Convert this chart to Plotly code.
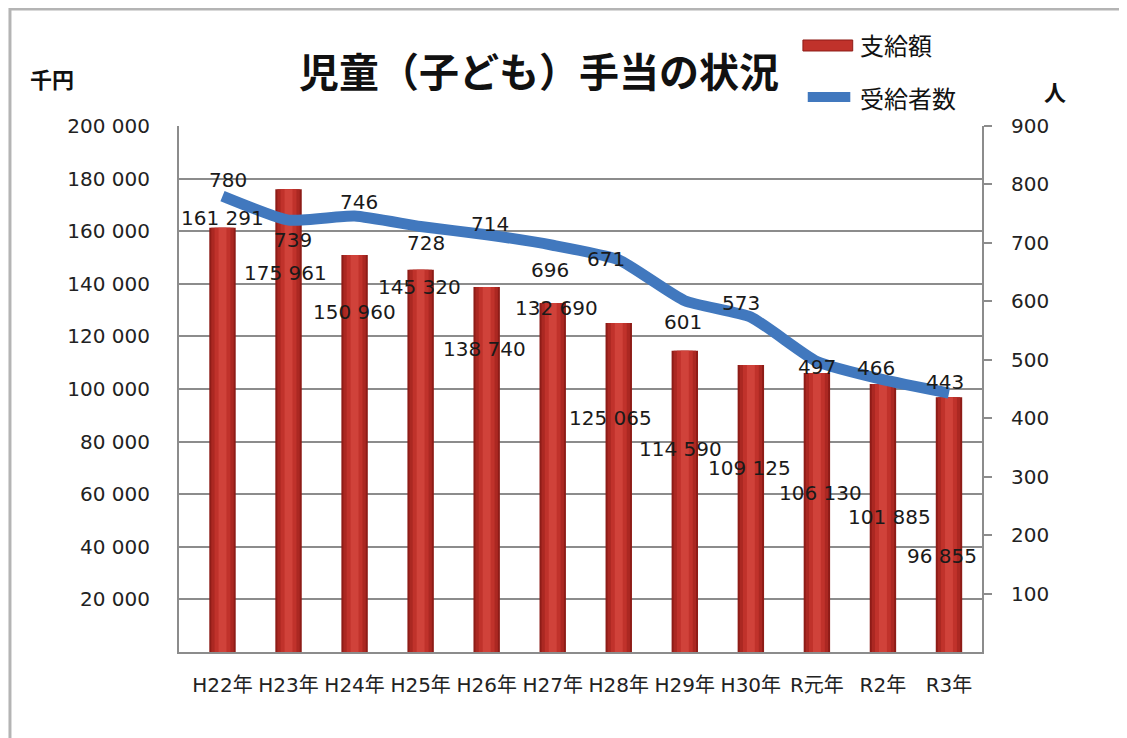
import plotly.graph_objects as go

# --- data -----------------------------------------------------------------
years = ["H22年", "H23年", "H24年", "H25年", "H26年", "H27年",
         "H28年", "H29年", "H30年", "R元年", "R2年", "R3年"]
payments = [161291, 175961, 150960, 145320, 138740, 132690,
            125065, 114590, 109125, 106130, 101885, 96855]      # 千円
recipients = [780, 739, 746, 728, 714, 696, 671, 601, 573, 497, 466, 443]  # 人

left_ticks = [20000, 40000, 60000, 80000, 100000,
              120000, 140000, 160000, 180000, 200000]
right_ticks = [100, 200, 300, 400, 500, 600, 700, 800, 900]

# hand placed label offsets (px) as in the original workbook chart
pay_shift = [(0, 10), (-3, -84), (0, -57), (-1, -17), (-2, -62), (4, -5),
             (-8, -95), (-4, -98), (-1, -103), (4, -120), (7, -133), (-7, -159)]
rec_shift = [(5, 16), (4, -20), (4, 14), (5, -16), (3, 11), (-3, -25),
             (-13, 1), (-2, -21), (-10, 14), (0, -5), (-7, 12), (-4, 11)]

FONT = "DejaVu Sans, Noto Sans CJK JP, sans-serif"
CJK_BOLD = "Noto Sans CJK JP, sans-serif"
GRID = "#8c8c8c"
BLUE = "#4178be"
TXT = "#1a1a1a"


def spaced(v):
    return f"{v:,}".replace(",", " ")


fig = go.Figure()

# cylinder-ish bars: a few overlaid bars getting narrower and lighter
for w, col in [(0.40, "#8e1c17"), (0.34, "#ab2822"),
               (0.24, "#c0322b"), (0.12, "#d0423a")]:
    fig.add_trace(go.Bar(x=years, y=payments, width=w, marker_color=col,
                         marker_line_width=0, name="支給額",
                         showlegend=False))

fig.add_trace(go.Scatter(x=years, y=recipients, yaxis="y2", mode="lines",
                         name="受給者数", showlegend=False,
                         line=dict(color=BLUE, width=11, shape="spline",
                                   smoothing=0.5)))

# data labels
ann = []
for yr, v, (dx, dy) in zip(years, payments, pay_shift):
    ann.append(dict(x=yr, y=v, xref="x", yref="y", text=spaced(v),
                    showarrow=False, xshift=dx, yshift=dy,
                    font=dict(family=FONT, size=20, color=TXT)))
for yr, v, (dx, dy) in zip(years, recipients, rec_shift):
    ann.append(dict(x=yr, y=v, xref="x", yref="y2", text=str(v),
                    showarrow=False, xshift=dx, yshift=dy,
                    font=dict(family=FONT, size=20, color=TXT)))


def paper_text(x, y, text, size, anchor="center"):
    return dict(x=x, y=y, xref="paper", yref="paper", showarrow=False,
                xanchor=anchor, yanchor="middle", text=text,
                font=dict(family=CJK_BOLD, size=size, color="#111"))


# title, unit labels, legend text
ann += [
    paper_text(0.448, 1.1065, "<b>児童（子ども）手当の状況</b>", 40),
    paper_text(-0.158, 1.091, "<b>千円</b>", 22),
    paper_text(1.091, 1.0665, "<b>人</b>", 22),
    paper_text(0.845, 1.154, "支給額", 24, "left"),
    paper_text(0.845, 1.055, "受給者数", 24, "left"),
]

shapes = [
    # outer chart frame
    dict(type="rect", xref="paper", yref="paper", x0=-0.2105, x1=1.3,
         y0=-0.3, y1=1.2224, line=dict(color="#b4b4b4", width=3),
         layer="below"),
    # legend swatches
    dict(type="rect", xref="paper", yref="paper", x0=0.777, x1=0.839,
         y0=1.1426, y1=1.1635, fillcolor="#c0322b",
         line=dict(color="#8e1c17", width=1)),
    dict(type="line", xref="paper", yref="paper", x0=0.783, x1=0.836,
         y0=1.055, y1=1.055, line=dict(color=BLUE, width=10)),
]

# page body has an 8px margin, so the figure is 8px smaller than the window
fig.update_layout(
    width=1119, height=730,
    margin=dict(l=171, r=145, t=118, b=86),
    paper_bgcolor="white", plot_bgcolor="white",
    barmode="overlay", bargap=0.6,
    separators=". ",
    showlegend=False,
    annotations=ann, shapes=shapes,
    xaxis=dict(showline=True, linecolor=GRID, linewidth=2, ticks="",
               ticklabelstandoff=14,
               tickfont=dict(family=FONT, size=20, color="#222")),
    yaxis=dict(range=[0, 200000], tickvals=left_ticks, tickformat=",d",
               showgrid=True, gridcolor=GRID, gridwidth=2, zeroline=False,
               showline=True, linecolor=GRID, linewidth=2,
               ticklabelstandoff=23,
               tickfont=dict(family=FONT, size=20, color="#222")),
    yaxis2=dict(range=[0, 900], tickvals=right_ticks, overlaying="y",
                side="right", showgrid=False, zeroline=False,
                showline=True, linecolor=GRID, linewidth=2,
                ticks="outside", ticklen=8, tickwidth=2, tickcolor=GRID,
                ticklabelstandoff=15,
                tickfont=dict(family=FONT, size=20, color="#222")),
)

fig.write_html("out.html")
